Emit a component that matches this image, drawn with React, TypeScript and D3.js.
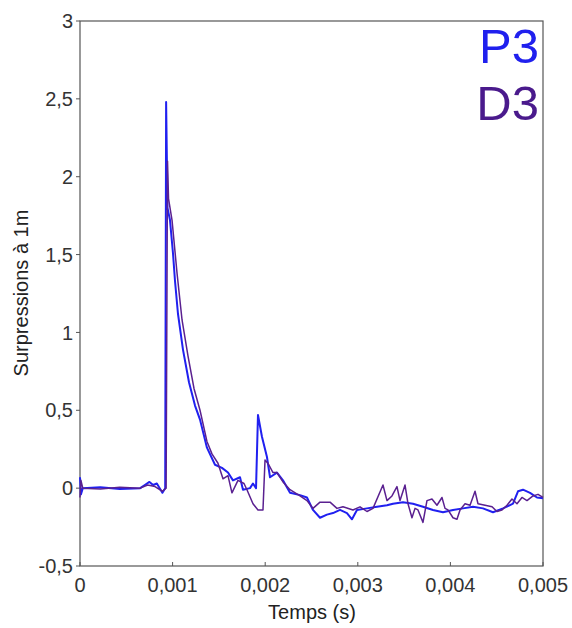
import React from "react";
import * as d3 from "d3";

// pressure traces, time in seconds, overpressure (bar)
const p3Time = [0, 0.00001, 0.00003, 0.00022, 0.00043, 0.00065, 0.0007, 0.00075, 0.00079, 0.00083, 0.00089, 0.00092, 0.00093, 0.000945, 0.000972, 0.001004, 0.001026, 0.001058, 0.001112, 0.001177, 0.001242, 0.001296, 0.001371, 0.001458, 0.001533, 0.001598, 0.001652, 0.001728, 0.00176, 0.001836, 0.001868, 0.001901, 0.001922, 0.001965, 0.002019, 0.002052, 0.002127, 0.002192, 0.002268, 0.002376, 0.002451, 0.002516, 0.002592, 0.002667, 0.002732, 0.002808, 0.002883, 0.002937, 0.002991, 0.003099, 0.003207, 0.003315, 0.00338, 0.003488, 0.003596, 0.003704, 0.003812, 0.00392, 0.004028, 0.004136, 0.004244, 0.004352, 0.00446, 0.004568, 0.004676, 0.00473, 0.004784, 0.00486, 0.004935, 0.005];
const p3Value = [0.07, -0.04, 0, 0.005, -0.005, 0, 0.02, 0.04, 0.02, 0.03, -0.03, 0, 2.48, 1.8, 1.72, 1.51, 1.33, 1.12, 0.89, 0.68, 0.53, 0.44, 0.26, 0.15, 0.13, 0.1, 0.05, 0.07, -0.01, 0, 0.03, 0, 0.47, 0.33, 0.2, 0.07, 0.1, 0.05, -0.03, -0.045, -0.06, -0.14, -0.19, -0.17, -0.16, -0.14, -0.16, -0.2, -0.14, -0.13, -0.12, -0.11, -0.1, -0.09, -0.1, -0.12, -0.14, -0.155, -0.14, -0.13, -0.12, -0.13, -0.155, -0.13, -0.1, -0.02, -0.01, -0.03, -0.06, -0.065];

const d3Time = [0, 0.00001, 0.00003, 0.00022, 0.00043, 0.00065, 0.00073, 0.00081, 0.00089, 0.00093, 0.000945, 0.000956, 0.000994, 0.001048, 0.001102, 0.001166, 0.001231, 0.001296, 0.001371, 0.001425, 0.00149, 0.001544, 0.001598, 0.001641, 0.001706, 0.001771, 0.001803, 0.001868, 0.001922, 0.001976, 0.001998, 0.00203, 0.002084, 0.002127, 0.002192, 0.002268, 0.002376, 0.002451, 0.002516, 0.002592, 0.0027, 0.002775, 0.00284, 0.002948, 0.003024, 0.003099, 0.003164, 0.003272, 0.003315, 0.003369, 0.003423, 0.003456, 0.00351, 0.003542, 0.003585, 0.003618, 0.00365, 0.003704, 0.003747, 0.003801, 0.003855, 0.003909, 0.003942, 0.003974, 0.004028, 0.004071, 0.004104, 0.004158, 0.004212, 0.004266, 0.004298, 0.004374, 0.00445, 0.004503, 0.004557, 0.004611, 0.004665, 0.004719, 0.004773, 0.004827, 0.004892, 0.004946, 0.005];
const d3Value = [-0.06, 0.05, 0, -0.005, 0.005, 0, 0.02, 0.01, -0.02, 0, 2.1, 1.86, 1.72, 1.38, 1.08, 0.85, 0.64, 0.5, 0.3, 0.22, 0.16, 0.06, 0.08, -0.03, 0.05, 0.03, -0.01, -0.1, -0.14, -0.14, 0.18, 0.16, 0.1, 0.1, 0.04, -0.01, -0.05, -0.08, -0.13, -0.09, -0.09, -0.13, -0.12, -0.14, -0.12, -0.15, -0.13, 0.02, -0.08, -0.05, 0.01, -0.08, 0.02, -0.1, -0.19, -0.13, -0.14, -0.22, -0.08, -0.07, -0.11, -0.06, -0.13, -0.14, -0.19, -0.2, -0.14, -0.1, -0.11, -0.02, -0.1, -0.11, -0.12, -0.15, -0.14, -0.11, -0.07, -0.1, -0.06, -0.08, -0.05, -0.04, -0.06];

const xTicks = [0, 0.001, 0.002, 0.003, 0.004, 0.005];
const yTicks = [-0.5, 0, 0.5, 1, 1.5, 2, 2.5, 3];

const fmt = (v: number) => String(v).replace(".", ",");

const App = () => {
  const w = 572;
  const h = 628;
  const left = 80, right = 543, top = 21, bottom = 566;

  const x = d3.scaleLinear().domain([0, 0.005]).range([left, right]);
  const y = d3.scaleLinear().domain([-0.5, 3]).range([bottom, top]);

  const line = d3
    .line<[number, number]>()
    .x((d) => x(d[0]))
    .y((d) => y(d[1]));

  const p3 = p3Time.map((t, i) => [t, p3Value[i]] as [number, number]);
  const dd3 = d3Time.map((t, i) => [t, d3Value[i]] as [number, number]);

  const font = "'Liberation Sans', Arial, sans-serif";

  return (
    <svg width={w} height={h} style={{ position: "absolute", left: 0, top: 0 }} fontFamily={font}>
      <rect x={0} y={0} width={w} height={h} fill="#fff" />
      {/* frame */}
      <rect x={left} y={top} width={right - left} height={bottom - top} fill="none" stroke="#555" strokeWidth={1.2} />

      {/* y axis ticks */}
      {yTicks.map((t) => (
        <g key={"y" + t}>
          <line x1={left - 4} x2={left} y1={y(t)} y2={y(t)} stroke="#555" />
          <text x={73} y={y(t)} dy="0.36em" textAnchor="end" fontSize={20} fill="#333">
            {fmt(t)}
          </text>
        </g>
      ))}

      {/* x axis ticks */}
      {xTicks.map((t) => (
        <g key={"x" + t}>
          <line x1={x(t)} x2={x(t)} y1={bottom} y2={bottom - 4} stroke="#555" />
          <text x={x(t)} y={592} textAnchor="middle" fontSize={20} fill="#333">
            {fmt(t)}
          </text>
        </g>
      ))}

      <path d={line(p3) || ""} fill="none" stroke="#2020f0" strokeWidth={2} strokeLinejoin="round" />
      <path d={line(dd3) || ""} fill="none" stroke="#5a2090" strokeWidth={1.5} strokeLinejoin="round" />

      <text x={312} y={619} textAnchor="middle" fontSize={20} fill="#222">
        Temps (s)
      </text>
      <text transform="translate(28,293) rotate(-90)" textAnchor="middle" fontSize={20} fill="#222">
        Surpressions à 1m
      </text>

      <text x={539} y={63} textAnchor="end" fontSize={49} fill="#2020ee">
        P3
      </text>
      <text x={539} y={120} textAnchor="end" fontSize={49} fill="#4a1a8c">
        D3
      </text>
    </svg>
  );
};

export default App;
